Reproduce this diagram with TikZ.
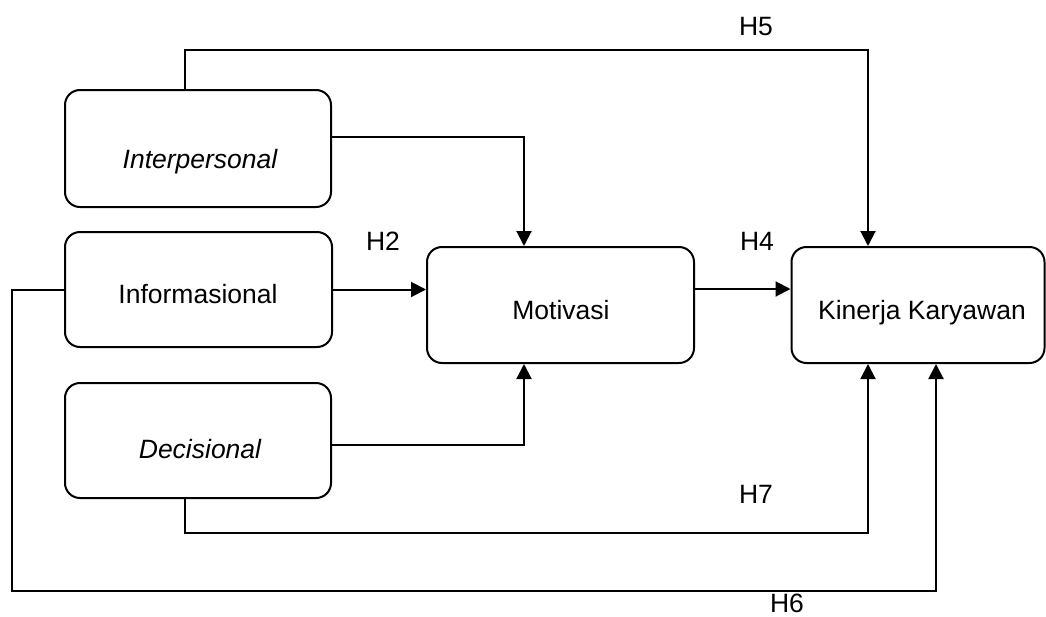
\documentclass[tikz,border=0pt]{standalone}
\usepackage{fontspec}
\setmainfont{Liberation Sans}
\usetikzlibrary{arrows.meta,calc}
\begin{document}
\begin{tikzpicture}[x=1pt,y=-1pt,
  box/.style={draw,line width=2pt,rounded corners=15pt,inner sep=0pt},
  txt/.style={anchor=base,inner sep=0pt,font=\fontsize{26.5pt}{30pt}\selectfont},
  conn/.style={line width=2pt},
  arr/.style={line width=2pt,-{Triangle[length=15pt,width=15pt]}}]
\useasboundingbox (0,0) rectangle (1046,616);
% boxes
\node[box,minimum width=266pt,minimum height=117pt] (inter) at (198,148.5) {};
\node[box,minimum width=267pt,minimum height=115pt] (info) at (198.5,289.5) {};
\node[box,minimum width=266pt,minimum height=115pt] (deci) at (198,440.5) {};
\node[box,minimum width=267pt,minimum height=116pt] (moti) at (560.5,305) {};
\node[box,minimum width=253pt,minimum height=116pt] (kin) at (918,305) {};
% texts
\node[txt] (tinter) at (200,168) {\itshape Interpersonal};
\node[txt] (tinfo) at (198,303) {Informasional};
\node[txt] (tdeci) at (200,458) {\itshape Decisional};
\node[txt] (tmoti) at (561,319) {Motivasi};
\node[txt] (tkin) at (922,319) {Kinerja Karyawan};
% labels
\node[txt] (h2) at (383,250) {H2};
\node[txt] (h4) at (757,250) {H4};
\node[txt] (h5) at (756,35) {H5};
\node[txt] (h7) at (756,503) {H7};
\node[txt] (h6) at (787,612) {H6};
% helper coordinates
\coordinate (h5a) at (185,50);
\coordinate (h5b) at (868,50);
\coordinate (mx) at (524,0);
\coordinate (h7a) at (185,533);
\coordinate (h7b) at (868,533);
\coordinate (h6a) at (12,289.5);
\coordinate (h6b) at (12,591);
\coordinate (h6c) at (936,591);
% connectors
\draw[arr] (inter.north -| h5a) -- (h5a) -- (h5b) -- (h5b |- kin.north);
\draw[arr] ([yshift=11.5pt]inter.east) -| (mx |- moti.north);
\draw[arr] (info.east) -- (moti.west |- info.east);
\draw[arr] ([yshift=-4.5pt]deci.east) -| (mx |- moti.south);
\draw[arr] ([yshift=16pt]moti.east) -- ([yshift=16pt]kin.west);
\draw[arr] (deci.south -| h7a) -- (h7a) -- (h7b) -- (h7b |- kin.south);
\draw[arr] (info.west) -- (h6a) -- (h6b) -- (h6c) -- (h6c |- kin.south);
\end{tikzpicture}
\end{document}
